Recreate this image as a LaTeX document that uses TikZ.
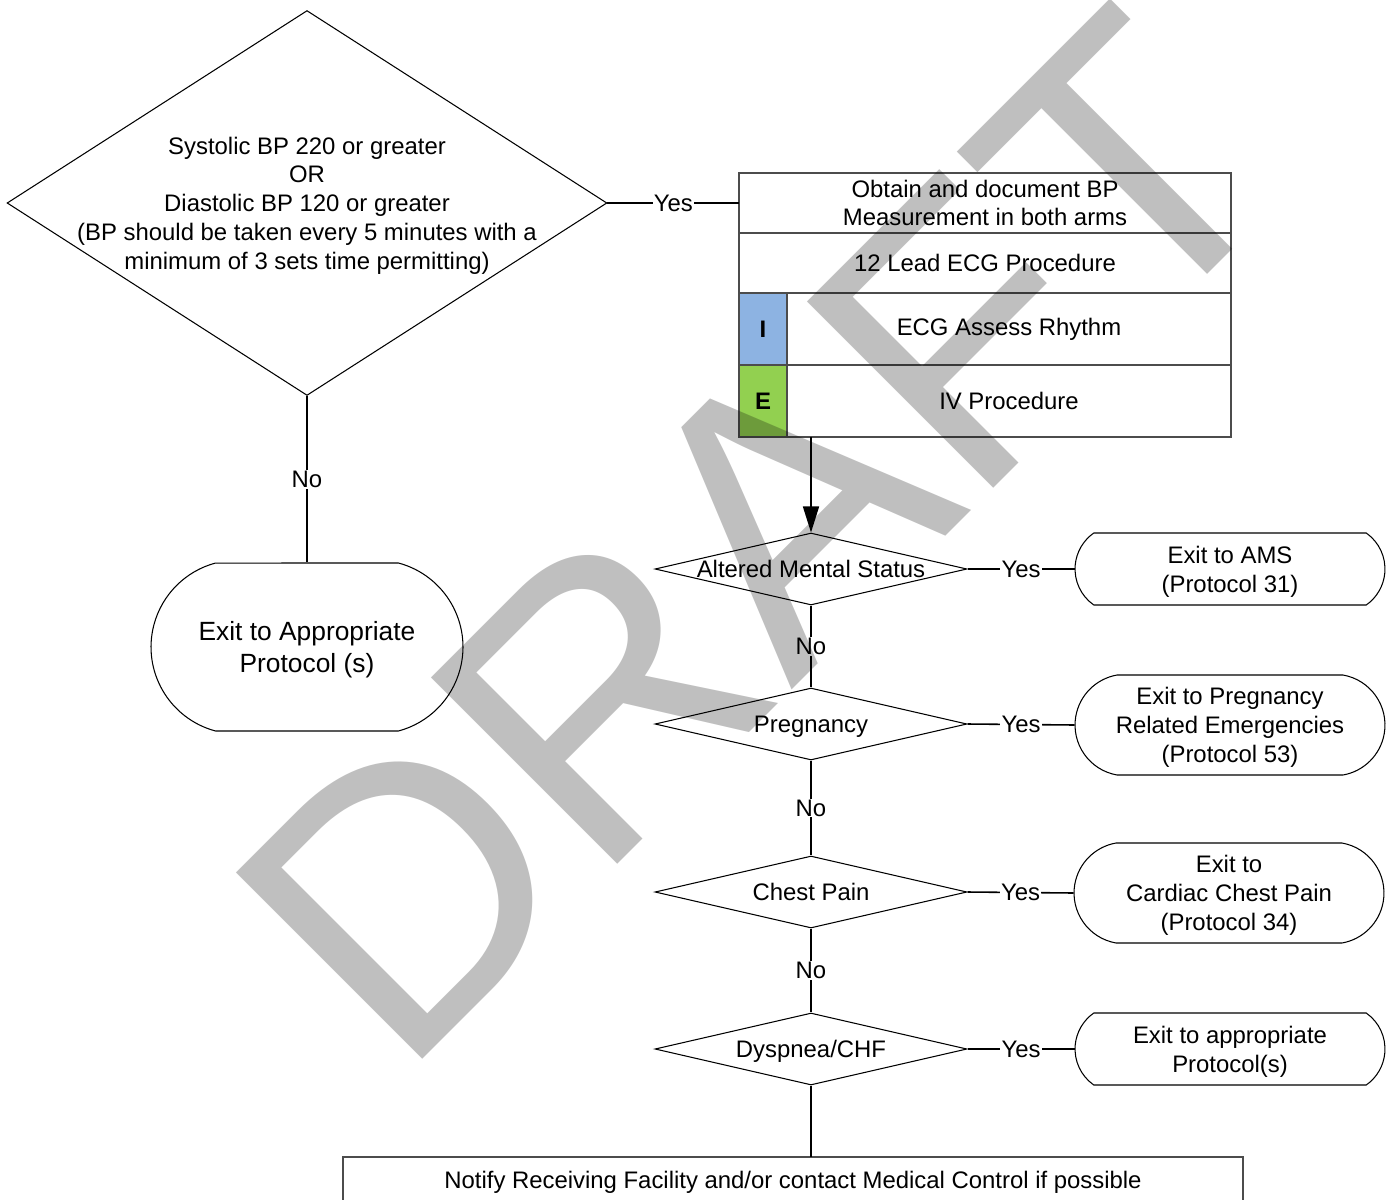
\documentclass[tikz,border=0pt]{standalone}
\usepackage{fontspec}
\setmainfont{Liberation Sans}
\usepackage{tikz}
\usetikzlibrary{shapes.geometric,shapes.misc,arrows.meta,positioning}
\definecolor{ivblue}{HTML}{8DB3E2}
\definecolor{ivgreen}{HTML}{92D050}

\begin{document}
\begin{tikzpicture}[x=0.02cm,y=-0.02cm,
  txt/.style={align=center,font=\fontsize{13.6}{16.4}\selectfont,inner sep=0pt,text depth=0pt},
  dec/.style={diamond,draw,line width=0.6pt,inner sep=0pt,minimum width=6.24cm,minimum height=1.44cm},
  stepbox/.style={rectangle,draw=black!70,line width=0.8pt,outer sep=0pt,inner sep=0pt,minimum width=9.84cm,minimum height=1.2cm,align=center,font=\fontsize{13.6}{16.4}\selectfont},
  cell/.style={rectangle,draw=black!70,line width=0.8pt,outer sep=0pt,inner sep=0pt,minimum width=0.96cm,minimum height=1.44cm,font=\fontsize{13.6}{16.4}\selectfont\bfseries},
  exitbox/.style={rounded rectangle,rounded rectangle arc length=160,draw,line width=0.6pt,inner sep=0pt,text depth=0pt,minimum width=6.2cm,minimum height=2cm,align=center,font=\fontsize{13.6}{16.4}\selectfont},
  link/.style={line width=0.9pt},
  lbl/.style={fill=white,inner sep=0.6pt,font=\fontsize{13.6}{16.4}\selectfont},
  watermark/.style={rotate=45,anchor=base west,inner sep=0pt,text=black,text opacity=0.25,font=\fontsize{218}{218}\selectfont}
]
  \useasboundingbox (0,0) rectangle (1386,1200);
  \clip (0,0) rectangle (1386,1200);

  \node[dec,minimum width=12cm,minimum height=7.7cm] (bp) at (307,203) {};
  \node[txt] (bptext) at (bp) {Systolic BP 220 or greater\\OR\\Diastolic BP 120 or greater\\(BP should be taken every 5 minutes with a\\minimum of 3 sets time permitting)};
  \node[exitbox,minimum width=6.24cm,minimum height=3.36cm,rounded rectangle arc length=150,font=\fontsize{15}{18.2}\selectfont] (exitproto) at (307,647) {Exit to Appropriate\\Protocol (s)};

  \node[stepbox] (obtain) at (985,203) {Obtain and document BP\\Measurement in both arms};
  \node[stepbox,below=0pt of obtain] (ecg) {12 Lead ECG Procedure};
  \node[cell,fill=ivblue,anchor=north west] (icell) at (ecg.south west) {I};
  \node[stepbox,minimum width=8.88cm,minimum height=1.44cm,right=0pt of icell] (rhythm) {ECG Assess Rhythm};
  \node[cell,fill=ivgreen,below=0pt of icell] (ecell) {E};
  \node[stepbox,minimum width=8.88cm,minimum height=1.44cm,right=0pt of ecell] (ivproc) {IV Procedure};

  \node[dec] (ams)   at (811,569)  {};
  \node[txt] (amstext) at (ams) {Altered Mental Status};
  \node[dec] (preg)  at (811,724)  {};
  \node[txt] (pregtext) at (preg) {Pregnancy};
  \node[dec] (chest) at (811,892)  {};
  \node[txt] (chesttext) at (chest) {Chest Pain};
  \node[dec] (dysp)  at (811,1049) {};
  \node[txt] (dysptext) at (dysp) {Dyspnea/CHF};

  \node[exitbox,minimum height=1.44cm,rounded rectangle arc length=110] (exitams) at (1230,569) {Exit to AMS\\(Protocol 31)};
  \node[exitbox] (exitpreg)  at (1230,725) {Exit to Pregnancy\\Related Emergencies\\(Protocol 53)};
  \node[exitbox] (exitchest) at (1229,893) {Exit to\\Cardiac Chest Pain\\(Protocol 34)};
  \node[exitbox,minimum height=1.44cm,rounded rectangle arc length=110] (exitother) at (1230,1049) {Exit to appropriate\\Protocol(s)};

  \node[stepbox,minimum width=18cm,minimum height=0.92cm,text depth=0pt] (notify) at (793,1180) {Notify Receiving Facility and/or contact Medical Control if possible};

  \draw[link] (bp.east) -- node[lbl]{Yes} (obtain.west);
  \draw[link] (bp.south) -- node[lbl]{No} (exitproto.north);
  \draw[link,-{Triangle[length=0.52cm,width=0.32cm]}] (ivproc.south -| ams.north) -- (ams.north);
  \foreach \d/\e in {ams/exitams,preg/exitpreg,chest/exitchest,dysp/exitother}
    \draw[link] (\d.east) -- node[lbl]{Yes} (\e.west);
  \draw[link] (ams.south) -- node[lbl]{No} (preg.north);
  \draw[link] (preg.south) -- node[lbl]{No} (chest.north);
  \draw[link] (chest.south) -- node[lbl]{No} (dysp.north);
  \draw[link] (dysp.south) -- (dysp.south |- notify.north);

  \node[watermark] (draft) at (400,1082) {DRAFT};
\end{tikzpicture}
\end{document}
